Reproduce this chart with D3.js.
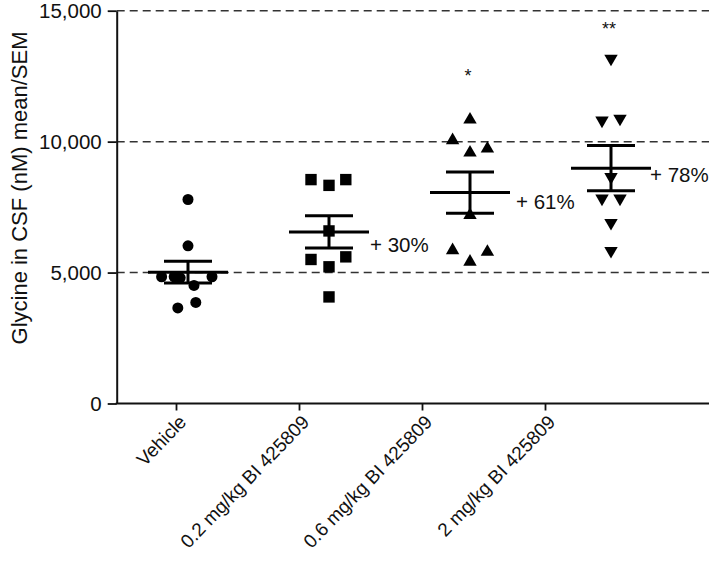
<!DOCTYPE html>
<html>
<head>
<meta charset="utf-8">
<script src="https://cdn.jsdelivr.net/npm/d3@7/dist/d3.min.js"></script>
<style>
  html, body { margin: 0; padding: 0; background: #fff; }
  svg { display: block; font-family: "Liberation Sans", Arial, Helvetica, sans-serif; }
</style>
</head>
<body>
<svg id="chart" width="709" height="568"></svg>
<script>
// ---- data ----
const categories = ["Vehicle", "0.2 mg/kg BI 425809", "0.6 mg/kg BI 425809", "2 mg/kg BI 425809"];
const vehicle = [7790, 6020, 4840, 4840, 4800, 4840, 4510, 3860, 3650];
const dose02  = [8550, 8330, 8550, 6590, 5500, 5220, 5600, 4070];
const dose06  = [10840, 10050, 9580, 9730, 7190, 5850, 5410, 5790];
const dose2   = [13170, 10810, 10880, 8650, 7830, 7830, 6900, 5830];
const seriesValues = [vehicle, dose02, dose06, dose2];
// horizontal scatter spread of each point, in symbol widths
const jitter = [
  [0, 0, -2.2, -1.15, -0.65, 2.0, 0.5, 0.65, -0.85],
  [-1.5, 0, 1.4, 0, -1.5, 0, 1.4, 0],
  [0, -1.45, 0, 1.45, 0, -1.45, 0, 1.45],
  [0, -0.75, 0.75, 0, -0.75, 0.75, 0, 0]
];
const changeLabels = [null, "+ 30%", "+ 61%", "+ 78%"];
const significance = [null, null, "*", "**"];
const significanceLevel = [null, null, 12600, 14360];
const yTicks = [0, 5000, 10000, 15000];
const yTitle = "Glycine in CSF (nM) mean/SEM";

// ---- layout ----
const svg = d3.select("#chart");
const axisX = 116.7, axisRight = 709;
const y = d3.scaleLinear().domain([0, 15000]).range([403.5, 10.7]);
const xData = d3.scalePoint().domain(categories).range([188, 611]);
const xTick = d3.scalePoint().domain(categories).range([176, 545]);
const ink = "#111";
const font = "'Liberation Sans', Arial, sans-serif";

// dashed reference lines
svg.append("g").selectAll("line").data(yTicks.filter(d => d > 0)).join("line")
  .attr("x1", axisX).attr("x2", axisRight)
  .attr("y1", d => y(d)).attr("y2", d => y(d))
  .attr("stroke", "#333").attr("stroke-width", 1.5)
  .attr("stroke-dasharray", "8,5");

// y axis
const yAxis = svg.append("g").attr("transform", `translate(${axisX},0)`)
  .call(d3.axisLeft(y).tickValues(yTicks).tickFormat(d3.format(",")).tickSize(9).tickSizeOuter(0).tickPadding(6));
yAxis.select(".domain").attr("stroke", ink).attr("stroke-width", 2);
yAxis.selectAll(".tick line").attr("stroke", ink).attr("stroke-width", 1.8);
yAxis.selectAll(".tick text").attr("font-size", 20.5).attr("fill", ink)
  .attr("font-family", font);

// x axis
const xAxis = svg.append("g").attr("transform", `translate(0,${y(0)})`)
  .call(d3.axisBottom(xTick).tickSize(7).tickSizeOuter(0));
xAxis.select(".domain").remove();
xAxis.selectAll(".tick line").attr("stroke", ink).attr("stroke-width", 1.8);
xAxis.selectAll(".tick text")
  .attr("font-size", 19).attr("fill", ink)
  .attr("font-family", font)
  .attr("text-anchor", "end")
  .attr("x", 0).attr("y", 0).attr("dy", "0.35em")
  .attr("transform", "translate(6,15) rotate(-46)");
svg.append("line").attr("x1", axisX - 1).attr("x2", axisRight)
  .attr("y1", y(0)).attr("y2", y(0)).attr("stroke", ink).attr("stroke-width", 2);

// y title
svg.append("text")
  .attr("transform", `translate(19,188) rotate(-90)`)
  .attr("text-anchor", "middle").attr("dy", "0.35em")
  .attr("font-size", 22).attr("fill", ink)
  .text(yTitle);

// symbols
const symbolTypes = [d3.symbolCircle, d3.symbolSquare, d3.symbolTriangle, d3.symbolTriangle];
const symbolSizes = [95, 130, 78, 78];
const symbolRot = [0, 0, 0, 180];
const symW = 12;
const labelShift = [null, [0, 2], [5, -2], [-2, -4]];

const stats = seriesValues.map(v => {
  const m = d3.mean(v);
  const sem = d3.deviation(v) / Math.sqrt(v.length);
  return { mean: m, sem };
});

categories.forEach((cat, i) => {
  const cx = xData(cat);
  const g = svg.append("g");
  g.selectAll("path.pt").data(seriesValues[i]).join("path")
    .attr("class", "pt")
    .attr("d", d3.symbol().type(symbolTypes[i]).size(symbolSizes[i]))
    .attr("transform", (d, j) => `translate(${cx + jitter[i][j] * symW},${y(d)}) rotate(${symbolRot[i]})`)
    .attr("fill", "#000");

  const s = stats[i];
  const eb = svg.append("g").attr("stroke", "#000").attr("stroke-width", 3).attr("fill", "none");
  eb.append("line").attr("x1", cx).attr("x2", cx).attr("y1", y(s.mean + s.sem)).attr("y2", y(s.mean - s.sem));
  eb.append("line").attr("x1", cx - 40).attr("x2", cx + 40).attr("y1", y(s.mean)).attr("y2", y(s.mean));
  eb.append("line").attr("x1", cx - 24).attr("x2", cx + 24).attr("y1", y(s.mean + s.sem)).attr("y2", y(s.mean + s.sem));
  eb.append("line").attr("x1", cx - 24).attr("x2", cx + 24).attr("y1", y(s.mean - s.sem)).attr("y2", y(s.mean - s.sem));

  if (changeLabels[i]) {
    svg.append("text")
      .attr("x", cx + 41 + labelShift[i][0]).attr("y", y(s.mean) + 11 + labelShift[i][1]).attr("dy", "0.35em")
      .attr("font-size", 20.5).attr("fill", ink)
      .text(changeLabels[i]);
  }
  if (significance[i]) {
    svg.append("text")
      .attr("x", cx - 2).attr("y", y(significanceLevel[i]) + 8)
      .attr("text-anchor", "middle")
      .attr("font-size", 18).attr("fill", ink)
      .text(significance[i]);
  }
});
</script>
</body>
</html>
